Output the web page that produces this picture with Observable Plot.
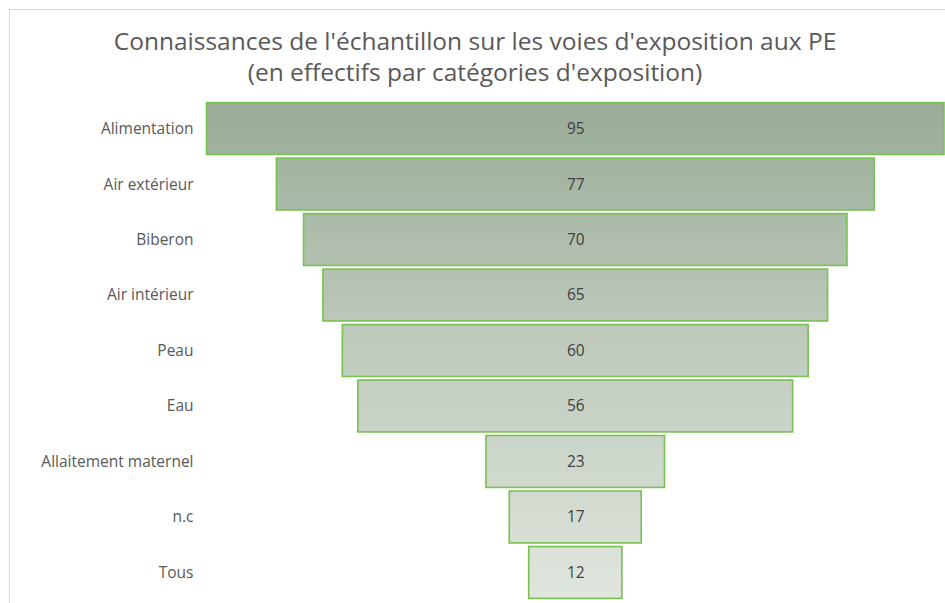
<!DOCTYPE html>
<html>
<head>
<meta charset="utf-8">
<script src="https://cdn.jsdelivr.net/npm/d3@7"></script>
<script src="https://cdn.jsdelivr.net/npm/@observablehq/plot@0.6"></script>
<style>
  html, body { margin: 0; padding: 0; background: #fff; }
  #wrap { position: relative; width: 945px; height: 603px; overflow: hidden; }
  #frame { position: absolute; left: 9px; top: 9px; width: 2000px; height: 2000px;
           border-top: 1px solid #d9d9d9; border-left: 1px solid #d9d9d9; box-sizing: border-box; }
  #title { position: absolute; left: 0; top: 25px; width: 950px; text-align: center;
           font-family: "Open Sans", Lato, sans-serif; font-size: 24.5px; line-height: 31px; color: #595959; }
  #chart { position: absolute; left: 0; top: 95px; }
</style>
</head>
<body>
<div id="wrap">
  <div id="frame"></div>
  <div id="title">Connaissances de l'échantillon sur les voies d'exposition aux PE<br>(en effectifs par catégories d'exposition)</div>
  <div id="chart"></div>
</div>
<script>
const categories = ["Alimentation", "Air extérieur", "Biberon", "Air intérieur", "Peau", "Eau", "Allaitement maternel", "n.c", "Tous"];
const values = [95, 77, 70, 65, 60, 56, 23, 17, 12];

const data = categories.map((c, i) => ({category: c, value: values[i]}));

const chart = Plot.plot({
  width: 945,
  height: 508,
  marginLeft: 206.5,
  marginRight: 1,
  marginTop: 4,
  marginBottom: 1,
  style: {fontFamily: "'Open Sans', Lato, sans-serif", fontSize: "15.5px", color: "#595959", background: "transparent"},
  x: {domain: [-47.5, 47.5], axis: null},
  y: {domain: categories, padding: 0.065, round: false, label: null},
  marks: [
    Plot.barX(data, {
      y: "category",
      x1: d => -d.value / 2,
      x2: d => d.value / 2,
      fill: "url(#funnelGrad)",
      stroke: "#78c050",
      strokeWidth: 1.6
    }),
    Plot.text(data, {
      y: "category",
      x: 0,
      text: d => String(d.value),
      fill: "#404040",
      fontSize: 15.5
    }),
    Plot.axisY({tickSize: 0, tickPadding: 13.5, label: null, fontSize: 15.5, color: "#595959"})
  ]
});

const ns = "http://www.w3.org/2000/svg";
const defs = document.createElementNS(ns, "defs");
const grad = document.createElementNS(ns, "linearGradient");
grad.setAttribute("id", "funnelGrad");
grad.setAttribute("gradientUnits", "userSpaceOnUse");
grad.setAttribute("x1", "0"); grad.setAttribute("x2", "0");
grad.setAttribute("y1", "5"); grad.setAttribute("y2", "505");
[["0%", "#98ac96"], ["50%", "#c0cbbe"], ["100%", "#e0e6de"]].forEach(([o, c]) => {
  const s = document.createElementNS(ns, "stop");
  s.setAttribute("offset", o); s.setAttribute("stop-color", c);
  grad.appendChild(s);
});
defs.appendChild(grad);
chart.insertBefore(defs, chart.firstChild);

document.getElementById("chart").appendChild(chart);
</script>
</body>
</html>
